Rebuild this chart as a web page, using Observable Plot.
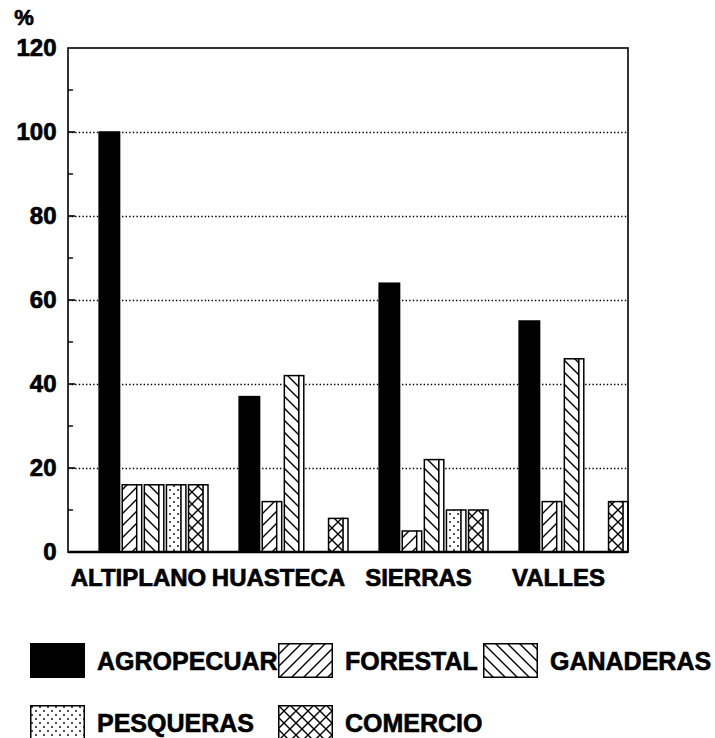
<!DOCTYPE html>
<html><head><meta charset="utf-8">
<script src="https://cdn.jsdelivr.net/npm/d3@7"></script>
<script src="https://cdn.jsdelivr.net/npm/@observablehq/plot@0.6"></script>
<style>
body{margin:0;background:#fff;width:715px;font-family:'Liberation Sans',Arial,sans-serif;}
#chart svg{display:block}
#chart svg text{paint-order:stroke;stroke:black;stroke-width:0.7px;}
#legend{position:relative;width:715px;height:138px;font-weight:bold;font-size:25px;}
.lg-sw{position:absolute;width:55px;height:35px;}
.lg-tx{position:absolute;height:35px;line-height:37px;white-space:nowrap;overflow:hidden;color:#000;-webkit-text-stroke:0.6px black;}
</style></head><body>
<svg width="0" height="0" style="position:absolute"><defs>
<pattern id="p-forestal" patternUnits="userSpaceOnUse" width="12" height="12"><rect width="12" height="12" fill="white"/><path d="M-3,3 L3,-3 M0,12 L12,0 M9,15 L15,9" stroke="black" stroke-width="1.4"/></pattern>
<pattern id="p-ganaderas" patternUnits="userSpaceOnUse" width="12" height="12"><rect width="12" height="12" fill="white"/><path d="M-3,9 L3,15 M0,0 L12,12 M9,-3 L15,3" stroke="black" stroke-width="1.4"/></pattern>
<pattern id="p-pesqueras" patternUnits="userSpaceOnUse" width="8" height="8"><rect width="8" height="8" fill="white"/><circle cx="2" cy="2" r="0.9" fill="black"/><circle cx="6" cy="6" r="0.9" fill="black"/></pattern>
<pattern id="p-comercio" patternUnits="userSpaceOnUse" width="12" height="12"><rect width="12" height="12" fill="white"/><path d="M0,0 L12,12 M12,0 L0,12" stroke="black" stroke-width="1.4"/></pattern>
</defs></svg>
<div id="chart"></div>
<div id="legend"></div>
<script>
// ---- data ----
const regions = ["ALTIPLANO", "HUASTECA", "SIERRAS", "VALLES"];
const series = ["AGROPECUARIAS", "FORESTAL", "GANADERAS", "PESQUERAS", "COMERCIO"];
const agropecuarias = [100, 37, 64, 55];
const forestal = [16, 12, 5, 12];
const ganaderas = [16, 42, 22, 46];
const pesqueras = [16, 0, 10, 0];
const comercio = [16, 8, 10, 12];
const yTicks = [0, 20, 40, 60, 80, 100, 120];
const gridTicks = [20, 40, 60, 80, 100];
const minorTicks = [10, 30, 50, 70, 90, 110];
const fills = ["black", "url(#p-forestal)", "url(#p-ganaderas)", "url(#p-pesqueras)", "url(#p-comercio)"];

const valuesBySeries = [agropecuarias, forestal, ganaderas, pesqueras, comercio];
const table = [];
regions.forEach((r, i) => series.forEach((s, j) => table.push({region: r, series: s, value: valuesBySeries[j][i]})));

const marks = [
  Plot.ruleY(gridTicks, {stroke: "black", strokeWidth: 1.4, strokeDasharray: "1.4,2.2"}),
  Plot.barY(table, {filter: d => d.series === series[0] && d.value > 0, x: "series", y: "value", fill: "black", stroke: "black", strokeWidth: 1.5, insetLeft: -1})
];
series.slice(1).forEach((s, k) => {
  marks.push(Plot.barY(table, {filter: d => d.series === s && d.value > 0, x: "series", y: "value", fill: "white", stroke: "black", strokeWidth: 1.5, insetLeft: 14}));
  marks.push(Plot.barY(table, {filter: d => d.series === s && d.value > 0, x: "series", y: "value", fill: fills[k + 1], stroke: "black", strokeWidth: 1.5, insetRight: 5}));
});

const plot = Plot.plot({
  width: 715,
  height: 600,
  marginLeft: 68,
  marginRight: 87,
  marginTop: 48,
  marginBottom: 48,
  style: {fontFamily: "'Liberation Sans', Arial, sans-serif", fontSize: "24px", fontWeight: "bold", background: "white", color: "black", overflow: "visible"},
  facet: {data: table, x: "region"},
  fx: {domain: regions, padding: 0, round: false, axis: "bottom", tickSize: 0, tickPadding: 16, label: null},
  x: {domain: series, axis: null, paddingInner: 0.12, paddingOuter: 0.727, align: 1, round: false},
  y: {domain: [0, 120], ticks: yTicks, tickSize: 0, tickPadding: 12, label: null, tickFormat: d => String(d)},
  marks
});
document.getElementById("chart").appendChild(plot);

// frame, inner ticks and % label drawn from the plot's own scales
const ys = plot.scale("y");
const y = d3.scaleLinear(ys.domain, ys.range);
let fxRange = [68, 628];
try { const f = plot.scale("fx"); if (f && f.range) fxRange = f.range; } catch (e) {}
const [x0, x1] = fxRange;
const g = d3.select(plot).append("g");
g.append("rect").attr("x", x0).attr("y", y(120)).attr("width", x1 - x0).attr("height", y(0) - y(120))
  .attr("fill", "none").attr("stroke", "black").attr("stroke-width", 1.6);
g.append("line").attr("x1", x0).attr("x2", x1).attr("y1", y(0)).attr("y2", y(0)).attr("stroke", "black").attr("stroke-width", 2.5);
gridTicks.forEach(v => g.append("line").attr("x1", x0).attr("x2", x0 + 7).attr("y1", y(v)).attr("y2", y(v)).attr("stroke", "black").attr("stroke-width", 1.6));
minorTicks.forEach(v => g.append("line").attr("x1", x0).attr("x2", x0 + 5).attr("y1", y(v)).attr("y2", y(v)).attr("stroke", "black").attr("stroke-width", 1.4));
g.append("text").attr("x", x0 - 44).attr("y", y(120) - 23).attr("fill", "black").style("font-size", "22px").text("%");

// legend
const legendPos = [
  {left: 30, top: 43, clip: 181},
  {left: 278, top: 43},
  {left: 483, top: 43},
  {left: 30, top: 105},
  {left: 278, top: 105}
];
const legend = d3.select("#legend");
series.forEach((s, i) => {
  const p = legendPos[i];
  const sw = legend.append("svg").attr("class", "lg-sw").attr("width", 55).attr("height", 35)
    .style("left", p.left + "px").style("top", p.top + "px");
  sw.append("rect").attr("x", 0.75).attr("y", 0.75).attr("width", 53.5).attr("height", 33.5).attr("fill", "white");
  sw.append("rect").attr("x", 0.75).attr("y", 0.75).attr("width", 53.5).attr("height", 33.5)
    .attr("fill", fills[i]).attr("stroke", "black").attr("stroke-width", 1.5);
  const tx = legend.append("div").attr("class", "lg-tx").style("left", (p.left + 67) + "px").style("top", p.top + "px").text(s);
  if (p.clip) tx.style("width", p.clip + "px");
});
legend.selectAll("svg").raise();
</script>
</body></html>
